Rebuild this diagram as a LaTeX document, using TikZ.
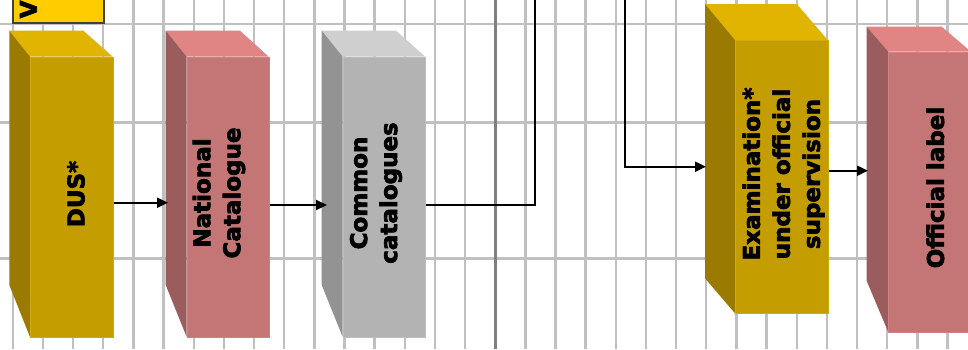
\documentclass[tikz,border=0pt]{standalone}
\usepackage{fontspec}
\setmainfont{DejaVu Sans}
\newfontfamily\boxfont{DejaVu Sans}[BoldFeatures={FakeBold=3}]
\usetikzlibrary{arrows.meta}

% face colours of the three box families
\definecolor{yetop}{HTML}{E0B400}
\definecolor{yeside}{HTML}{9A7A00}
\definecolor{yefront}{HTML}{C49E00}
\definecolor{yeedge}{HTML}{D2AA10}
\definecolor{pktop}{HTML}{E08484}
\definecolor{pkside}{HTML}{9A5C5C}
\definecolor{pkfront}{HTML}{C47676}
\definecolor{pkedge}{HTML}{D08282}
\definecolor{gytop}{HTML}{CFCFCF}
\definecolor{gyside}{HTML}{939393}
\definecolor{gyfront}{HTML}{B3B3B3}
\definecolor{gyedge}{HTML}{BDBDBD}
\definecolor{gridlight}{HTML}{C0C0C0}
\definecolor{griddark}{HTML}{808080}
\definecolor{tabfill}{HTML}{FFCC00}
\definecolor{tabline}{HTML}{404040}

% top and side faces of a cuboid in perspective
% #1 family, #2 #3 front x, #4 #5 front y, #6 #7 back x, #8 back y, #9 side bottom y
\newcommand\cuboidfaces[9]{%
  \fill[#1top]  (#6,#8) -- (#7,#8) -- (#3,#4) -- (#2,#4) -- cycle;
  \fill[#1side] (#6,#8) -- (#2,#4) -- (#2,#5) -- (#6,#9) -- cycle;
}

\tikzset{
  frontface/.style={draw=#1edge, line width=0.8pt, fill=#1front,
    anchor=north west, inner sep=0pt},
  boxtext/.style={rotate=90, align=center, inner sep=0pt,
    font=\boxfont\fontsize{23pt}{30pt}\selectfont\bfseries},
  conn/.style={line width=2pt, black, line join=miter,
    -{Triangle[length=11pt,width=10pt]}},
  gridline/.style={line width=2.4pt, gridlight},
}

\begin{document}
\begin{tikzpicture}[x=1pt,y=-1pt]
\clip (0,0) rectangle (968,349);
\fill[white] (0,0) rectangle (968,349);

% table grid behind the boxes
\foreach \k in {0,...,31}{
  \draw[gridline] ({12.8+30.15*\k},0) -- ({12.8+30.15*\k},349);
}
\foreach \y in {24,122.3,258.3}{
  \draw[gridline] (0,\y) -- (968,\y);
}
\draw[line width=3pt, griddark] (495.2,0) -- (495.2,349);

% header tab
\node[draw=tabline, line width=1.6pt, fill=tabfill, anchor=south west,
  minimum width=91pt, minimum height=60pt, inner sep=0pt] (tab) at (12.3,24) {};
\node[rotate=90, anchor=base west, inner sep=0pt,
  font=\boxfont\fontsize{23pt}{28pt}\selectfont\bfseries] (tabtext) at (36.7,18.5) {V};

% DUS*
\cuboidfaces{ye}{30}{112.7}{56.7}{337}{9.3}{83.3}{30.7}{285}
\node[frontface=ye, minimum width=82.7pt, minimum height=280.3pt] (dus) at (30,56.7) {};
\node[boxtext] (dustext) at (76,194) {DUS*};

% National Catalogue
\cuboidfaces{pk}{186.7}{268.7}{56.7}{337}{165.7}{240}{30.7}{285}
\node[frontface=pk, minimum width=82pt, minimum height=280.3pt] (nat) at (186.7,56.7) {};
\node[boxtext] (nattext) at (219,193) {National\\Catalogue};

% Common catalogues
\cuboidfaces{gy}{342.7}{425.3}{56.7}{337}{321.7}{396}{30.7}{285}
\node[frontface=gy, minimum width=82.6pt, minimum height=280.3pt] (com) at (342.7,56.7) {};
\node[boxtext] (comtext) at (376,193) {Common\\catalogues};

% Examination under official supervision
\cuboidfaces{ye}{735}{827.7}{40}{313.3}{705}{796.7}{4}{278.3}
\node[frontface=ye, minimum width=92.7pt, minimum height=273.3pt] (exam) at (735,40) {};
\node[boxtext] (examtext) at (783.5,174) {Examination*\\under official\\supervision};

% Official label
\cuboidfaces{pk}{888.3}{971}{51.7}{332.3}{866.7}{941.7}{26.7}{281}
\node[frontface=pk, minimum width=82.7pt, minimum height=280.6pt] (off) at (888.3,51.7) {};
\node[boxtext] (offtext) at (935.3,187.5) {Official label};

% connectors
\coordinate (t1) at (168,202.7);
\coordinate (t2) at (327,205);
\coordinate (t3) at (706,166.7);
\coordinate (t4) at (868,170.7);
\draw[conn] (dus.east |- t1) -- (t1);
\draw[conn] (nat.east |- t2) -- (t2);
\draw[conn] (com.east |- t2) -| ++(109.2,-230) -| (625.3,166.7) -- (t3);
\draw[conn] (exam.east |- t4) -- (t4);
\end{tikzpicture}
\end{document}
